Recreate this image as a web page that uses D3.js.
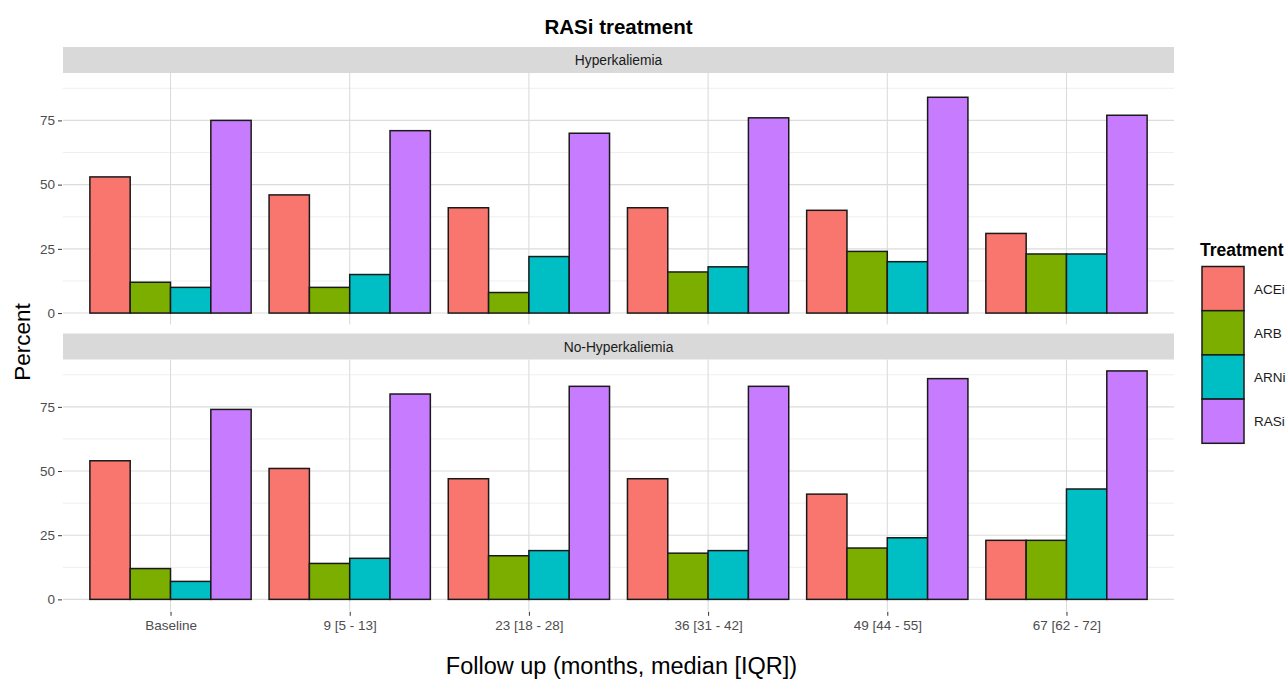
<!DOCTYPE html>
<html>
<head>
<meta charset="utf-8">
<script src="https://cdn.jsdelivr.net/npm/d3@7"></script>
<style>
  body { margin: 0; background: #fff; }
  svg { font-family: "Liberation Sans", Arial, sans-serif; }
  .tick text { fill: #4d4d4d; font-size: 13.5px; }
  .tick line { stroke: #333; }
</style>
</head>
<body>
<svg width="1288" height="681"></svg>
<script>
const svg = d3.select("svg")

const categories = ["Baseline", "9 [5 - 13]", "23 [18 - 28]", "36 [31 - 42]", "49 [44 - 55]", "67 [62 - 72]"]
const treatments = ["ACEi", "ARB", "ARNi", "RASi"]
const colors = ["#F8766D", "#7CAE00", "#00BFC4", "#C77CFF"]
const facets = ["Hyperkaliemia", "No-Hyperkaliemia"]
const yTicks = [0, 25, 50, 75]

// values per treatment, one per category
const hyperACEi = [53, 46, 41, 41, 40, 31]
const hyperARB = [12, 10, 8, 16, 24, 23]
const hyperARNi = [10, 15, 22, 18, 20, 23]
const hyperRASi = [75, 71, 70, 76, 84, 77]

const noHyperACEi = [54, 51, 47, 47, 41, 23]
const noHyperARB = [12, 14, 17, 18, 20, 23]
const noHyperARNi = [7, 16, 19, 19, 24, 43]
const noHyperRASi = [74, 80, 83, 83, 86, 89]

const seriesByFacet = [
  [hyperACEi, hyperARB, hyperARNi, hyperRASi],
  [noHyperACEi, noHyperARB, noHyperARNi, noHyperRASi]
]

const panelLeft = 63
const panelRight = 1174
const panels = [
  { stripTop: 47, top: 73, bottom: 324.5 },
  { stripTop: 333.5, top: 359.5, bottom: 610.8 }
]

// discrete scale with ggplot-like 0.6 expansion
const xScale = d3.scaleLinear()
  .domain([0.4, categories.length + 0.6])
  .range([panelLeft, panelRight])
const dodge = d3.scaleBand()
  .domain(treatments)
  .range([-0.45, 0.45])
const color = d3.scaleOrdinal().domain(treatments).range(colors)

const maxVal = d3.max(seriesByFacet.flat(2))
const pad = maxVal * 0.05

panels.forEach((p, fi) => {
  const yScale = d3.scaleLinear()
    .domain([-pad, maxVal + pad])
    .range([p.bottom, p.top])

  // strip
  svg.append("rect")
    .attr("x", panelLeft).attr("y", p.stripTop)
    .attr("width", panelRight - panelLeft).attr("height", p.top - p.stripTop)
    .attr("fill", "#d9d9d9")
  svg.append("text")
    .attr("x", (panelLeft + panelRight) / 2).attr("y", (p.stripTop + p.top) / 2 + 5)
    .attr("text-anchor", "middle")
    .attr("font-size", 13.8).attr("fill", "#1a1a1a")
    .text(facets[fi])

  const g = svg.append("g")

  // minor grid
  const minor = d3.range(12.5, maxVal + pad, 25)
  g.selectAll(".minor").data(minor).join("line")
    .attr("x1", panelLeft).attr("x2", panelRight)
    .attr("y1", (d) => yScale(d)).attr("y2", (d) => yScale(d))
    .attr("stroke", "#ebebeb").attr("stroke-width", 0.8)

  // major grid
  g.selectAll(".major").data(yTicks).join("line")
    .attr("x1", panelLeft).attr("x2", panelRight)
    .attr("y1", (d) => yScale(d)).attr("y2", (d) => yScale(d))
    .attr("stroke", "#dcdcdc").attr("stroke-width", 1.1)
  g.selectAll(".vgrid").data(categories).join("line")
    .attr("x1", (d, i) => xScale(i + 1)).attr("x2", (d, i) => xScale(i + 1))
    .attr("y1", p.top).attr("y2", p.bottom)
    .attr("stroke", "#dcdcdc").attr("stroke-width", 1.1)

  // bars
  seriesByFacet[fi].forEach((vals, ti) => {
    const t = treatments[ti]
    g.selectAll(".bar-" + t).data(vals).join("rect")
      .attr("x", (d, i) => xScale(i + 1 + dodge(t)))
      .attr("width", xScale(dodge.bandwidth()) - xScale(0))
      .attr("y", (d) => yScale(d))
      .attr("height", (d) => yScale(0) - yScale(d))
      .attr("fill", color(t))
      .attr("stroke", "#1a1a1a").attr("stroke-width", 1.5)
  })

  // y axis
  const yAxis = d3.axisLeft(yScale).tickValues(yTicks).tickSize(4).tickPadding(3)
  const yAxisG = svg.append("g")
    .attr("transform", `translate(${panelLeft - 1},0)`)
    .call(yAxis)
  yAxisG.select(".domain").remove()

  if (fi === panels.length - 1) {
    const xAxis = d3.axisBottom(xScale)
      .tickValues(d3.range(1, categories.length + 1))
      .tickFormat((d) => categories[d - 1])
      .tickSize(4).tickPadding(5)
    const xAxisG = svg.append("g")
      .attr("transform", `translate(0,${p.bottom + 1})`)
      .call(xAxis)
    xAxisG.select(".domain").remove()
  }
})

// title
svg.append("text")
  .attr("x", (panelLeft + panelRight) / 2).attr("y", 34)
  .attr("text-anchor", "middle")
  .attr("font-size", 20.5).attr("font-weight", "bold")
  .text("RASi treatment")

// axis labels
svg.append("text")
  .attr("x", (panelLeft + panelRight) / 2 + 3).attr("y", 674)
  .attr("text-anchor", "middle")
  .attr("font-size", 23.5)
  .text("Follow up (months, median [IQR])")
svg.append("text")
  .attr("transform", `translate(30,${(panels[0].top + panels[1].bottom) / 2}) rotate(-90)`)
  .attr("text-anchor", "middle")
  .attr("font-size", 22.5)
  .text("Percent")

// legend
const legend = svg.append("g").attr("transform", "translate(1200,0)")
legend.append("text")
  .attr("x", 0).attr("y", 256)
  .attr("font-size", 17.5).attr("font-weight", "bold")
  .text("Treatment")
treatments.forEach((t, i) => {
  legend.append("rect")
    .attr("x", 2).attr("y", 266.5 + i * 44.2)
    .attr("width", 42).attr("height", 44.2)
    .attr("fill", color(t))
    .attr("stroke", "#1a1a1a").attr("stroke-width", 1.5)
  legend.append("text")
    .attr("x", 54).attr("y", 266.5 + i * 44.2 + 27)
    .attr("font-size", 13.5).attr("fill", "#1a1a1a")
    .text(t)
})
</script>
</body>
</html>
